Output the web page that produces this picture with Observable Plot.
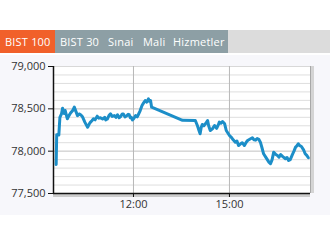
<!DOCTYPE html>
<html>
<head>
<meta charset="utf-8">
<script src="https://cdn.jsdelivr.net/npm/d3@7"></script>
<script src="https://cdn.jsdelivr.net/npm/@observablehq/plot@0.6"></script>
<style>
  body { margin:0; width:330px; height:247px; overflow:hidden; background:#fff; font-family:"Open Sans", sans-serif; }
  #tabs { position:absolute; top:30px; left:0; width:330px; height:23px; background:#dcdcdc; }
  #tabs .grey { position:absolute; top:0; left:55px; width:173px; height:23px; background:#8d9fa5; }
  #tabs .active { position:absolute; top:0; left:0; width:55px; height:23px; background:#f1602a; }
  #tabs span.t { position:absolute; top:0; line-height:23px; font-size:11px; color:#fff; white-space:nowrap; letter-spacing:0.2px; }
  #chart { position:absolute; top:55px; left:0; width:330px; height:160px; background:#f7f7fb; }
</style>
</head>
<body>
<div id="tabs"></div>
<div id="chart"></div>
<script>
const tabLabels = ["BIST 100", "BIST 30", "Sınai", "Mali", "Hizmetler"];
const times = ["09:35","09:36","09:40","09:42","09:45","09:47","09:50","09:52","09:54","09:56","09:59","10:02","10:06","10:09","10:12","10:15","10:18","10:21","10:24","10:29","10:34","10:37","10:39","10:42","10:45","10:48","10:52","10:55","10:58","11:02","11:06","11:08","11:11","11:14","11:17","11:20","11:24","11:27","11:30","11:33","11:36","11:39","11:41","11:44","11:47","11:50","11:52","11:54","11:56","11:58","12:00","12:02","12:04","12:07","12:09","12:12","12:16","12:19","12:22","12:25","12:28","12:30","12:32","12:34","13:32","13:56","14:00","14:02","14:05","14:07","14:09","14:12","14:15","14:19","14:21","14:24","14:28","14:32","14:36","14:39","14:41","14:44","14:47","14:51","14:54","14:57","15:00","15:04","15:07","15:11","15:14","15:17","15:21","15:24","15:28","15:31","15:34","15:38","15:43","15:46","15:49","15:52","15:55","15:58","16:01","16:04","16:08","16:11","16:14","16:17","16:20","16:23","16:27","16:30","16:33","16:36","16:40","16:45","16:48","16:51","16:54","16:58","17:01","17:04","17:06","17:09","17:12","17:15","17:19","17:22","17:25","17:28"];
const values = [77843,78193,78190,78400,78440,78508,78445,78480,78430,78382,78420,78450,78480,78520,78470,78420,78440,78430,78410,78340,78283,78320,78340,78360,78382,78370,78413,78390,78394,78380,78400,78370,78380,78420,78441,78410,78420,78400,78430,78395,78410,78440,78440,78405,78415,78435,78430,78395,78400,78370,78382,78400,78420,78405,78430,78470,78540,78570,78598,78580,78618,78590,78598,78520,78365,78362,78300,78260,78205,78280,78315,78300,78323,78362,78300,78244,78264,78303,78270,78310,78343,78330,78350,78323,78244,78215,78185,78160,78134,78106,78120,78067,78087,78100,78067,78100,78126,78140,78158,78135,78130,78150,78140,78106,78040,77969,77930,77900,77870,77851,77900,77988,77960,77949,77930,77960,77935,77910,77925,77890,77900,77960,78000,78048,78060,78087,78065,78055,78016,77969,77950,77922];
const yTicks = [77500, 78000, 78500, 79000];
const xTickLabels = ["12:00", "15:00"];
const xDomainLabels = ["09:30", "17:32"];

// tabs
const tabs = document.getElementById("tabs");
tabs.innerHTML = '<div class="grey"></div><div class="active"></div>';
const tabLeft = [5, 60, 108, 143, 173];
tabLabels.forEach((l, i) => {
  const s = document.createElement("span");
  s.className = "t"; s.textContent = l; s.style.left = tabLeft[i] + "px";
  tabs.appendChild(s);
});

const toDate = s => { const [h, m] = s.split(":").map(Number); return new Date(Date.UTC(2015, 0, 1, h, m)); };
const data = times.map((t, i) => ({time: toDate(t), value: values[i]}));
const x0 = toDate(xDomainLabels[0]), x1 = toDate(xDomainLabels[1]);
const grid = d3.range(77600, 79000, 100);
const fmt = d3.format(",");

const chart = Plot.plot({
  width: 330, height: 160,
  marginTop: 11, marginBottom: 22, marginLeft: 53, marginRight: 20,
  style: {background: "transparent", fontFamily: "Open Sans, sans-serif", fontSize: "11px", color: "#333"},
  x: {type: "utc", domain: [x0, x1]},
  y: {domain: [77500, 79000]},
  marks: [
    Plot.frame({fill: "white", stroke: null}),
    Plot.ruleY(grid, {stroke: "#dedede", strokeWidth: 1}),
    Plot.ruleY([78000, 78500], {stroke: "#cfcfcf", strokeWidth: 1}),
    Plot.ruleY([79000], {stroke: "#d8d8d8", strokeWidth: 1}),
    Plot.ruleX(xTickLabels.map(toDate), {stroke: "#b8b8b8", strokeWidth: 1}),
    Plot.ruleX([x1], {stroke: "#d4d4d4", strokeWidth: 3, dx: 2}),
    Plot.ruleX([x1], {stroke: "#a8a8a8", strokeWidth: 1}),
    Plot.ruleY([77500], {stroke: "#cccccc", strokeWidth: 3, dy: 2}),
    Plot.line(data, {x: "time", y: "value", stroke: "#1c8ec8", strokeWidth: 3, strokeLinejoin: "round", strokeLinecap: "round"}),
    Plot.ruleX([x0], {stroke: "#111", strokeWidth: 1.5}),
    Plot.ruleY([77500], {stroke: "#111", strokeWidth: 1.5}),
    Plot.axisY({ticks: yTicks, tickFormat: fmt, tickSize: 5, tickPadding: 3, tickStrokeWidth: 1.5, stroke: "#111", label: null, fill: "#333"}),
    Plot.axisX({ticks: xTickLabels.map(toDate), tickFormat: d3.utcFormat("%H:%M"), tickSize: 4, tickPadding: 3, stroke: "#111", label: null, fill: "#333"})
  ]
});
document.getElementById("chart").appendChild(chart);
</script>
</body>
</html>
